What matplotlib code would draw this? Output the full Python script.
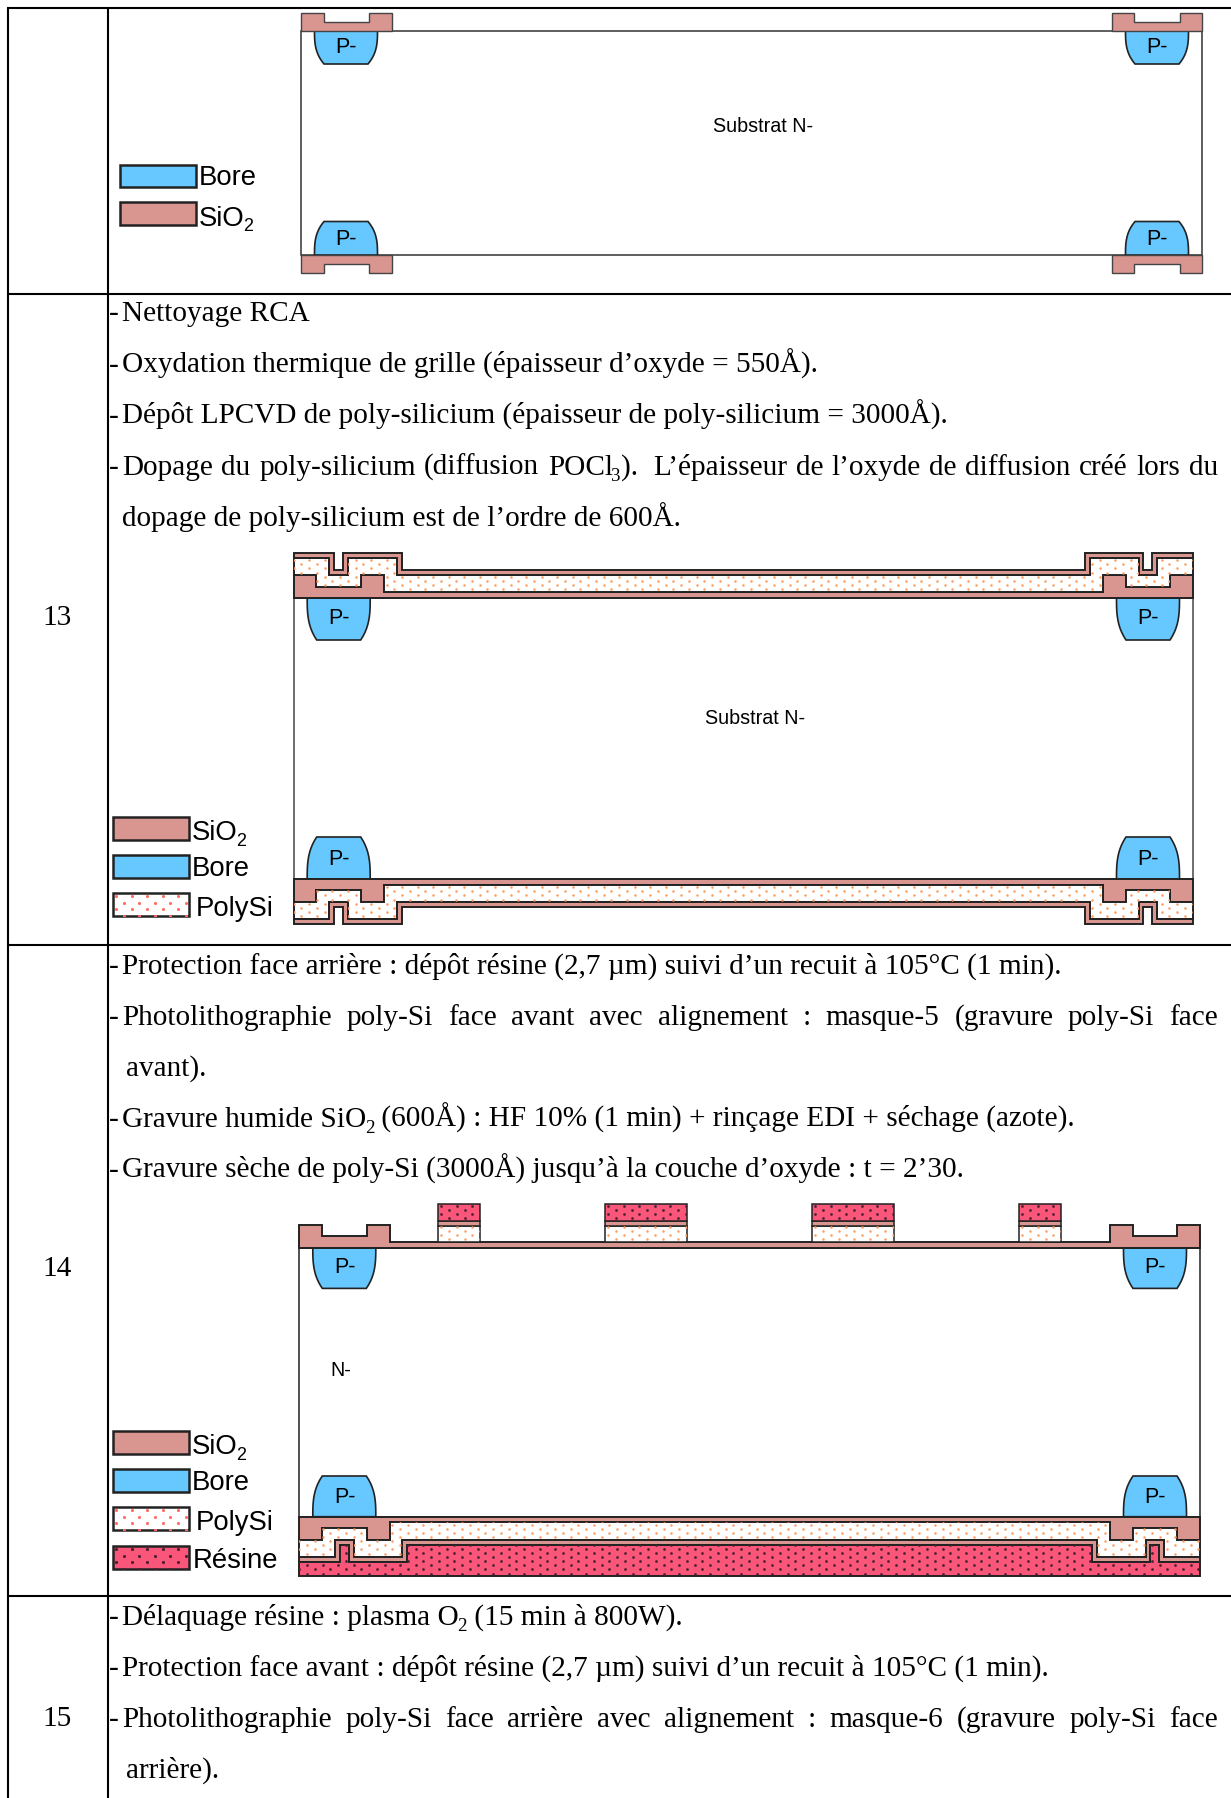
import numpy as np
from matplotlib import pyplot as plt
from matplotlib.patches import Polygon, Rectangle

W, H = 1231, 1798
SERIF = 'Liberation Serif'
SANS = 'Liberation Sans'
BODY_SIZE = 21.1
C_OX, C_BORE, C_RES = '#d99690', '#66c8ff', '#f9567a'
C_DOT, C_DOT_LEG, C_DOT_RES = '#ff9b5e', '#ff6b62', '#4a2030'

row_lines = [8, 294, 945, 1596]
row_numbers = ['13', '14', '15']
row_number_y = [618, 1269, 1719]

# step profiles: (x from the wafer edge, height above the surface)
ox1_profile = [(0, 23), (22.7, 11.3), (67.3, 23), (90.3, 5.6)]
poly_profile = [(0, 40), (35.6, 23), (54.3, 40), (103, 23)]
ox2_profile = [(0, 45.3), (40.6, 28), (49.6, 45.3), (108, 28)]
res_profile = [(0, 59)]
first_ox_profile = [(0, 18), (22.5, 9), (68, 18)]
block_edges = [(139, 180.7), (306, 387.7)]

text_13 = [
    (321, '- Nettoyage RCA', False),
    (373, '- Oxydation thermique de grille (épaisseur d’oxyde = 550Å).', False),
    (424, '- Dépôt LPCVD de poly-silicium (épaisseur de poly-silicium = 3000Å).', False),
    (475, '- Dopage du poly-silicium (diffusion POCl|3|). L’épaisseur de l’oxyde de diffusion créé lors du', True),
    (526, '  dopage de poly-silicium est de l’ordre de 600Å.', False),
]
text_14 = [
    (974, '- Protection face arrière : dépôt résine (2,7 µm) suivi d’un recuit à 105°C (1 min).', False),
    (1025, '- Photolithographie poly-Si face avant avec alignement : masque-5 (gravure poly-Si face', True),
    (1076, '   avant).', False),
    (1127, '- Gravure humide SiO|2| (600Å) : HF 10% (1 min) + rinçage EDI + séchage (azote).', False),
    (1178, '- Gravure sèche de poly-Si (3000Å) jusqu’à la couche d’oxyde : t = 2’30.', False),
]
text_15 = [
    (1625, '- Délaquage résine : plasma O|2| (15 min à 800W).', False),
    (1676, '- Protection face avant : dépôt résine (2,7 µm) suivi d’un recuit à 105°C (1 min).', False),
    (1727, '- Photolithographie poly-Si face arrière avec alignement : masque-6 (gravure poly-Si face', True),
    (1778, '   arrière).', False),
]

fig = plt.figure(figsize=(W / 100, H / 100), dpi=100)
ax = fig.add_axes([0, 0, 1, 1])
ax.set_xlim(0, W)
ax.set_ylim(H, 0)
ax.axis('off')
rend = fig.canvas.get_renderer()


def text_w(s, size, family):
    t = ax.text(0, 0, s, fontsize=size, family=family)
    w = t.get_window_extent(rend).width
    t.remove()
    return w


def put(x, y, s, size=BODY_SIZE, family=SERIF):
    # parts between | are subscripts, returns the end x
    for i, part in enumerate(s.split('|')):
        if i % 2:
            ax.text(x - 1.5, y + size * 0.3, part, fontsize=size * 0.65, family=family, va='baseline')
            x += text_w(part, size * 0.65, family) - 1.5
        elif part:
            ax.text(x, y, part, fontsize=size, family=family, va='baseline')
            x += text_w(part.replace(' ', '\u00a0'), size, family)
    return x


def put_justified(x, y, s, right):
    words = s.split(' ')
    widths = [text_w(w.replace('|', ''), BODY_SIZE, SERIF) for w in words]
    gap = (right - x - sum(widths)) / (len(words) - 1)
    for w, ww in zip(words, widths):
        put(x, y, w)
        x += ww + gap


def write_lines(lines):
    for y, s, just in lines:
        lead = len(s) - len(s.lstrip(' '))
        if s.startswith('- '):
            put(109, y, '-')
            x, s = 122, s[2:]
        else:
            x, s = 122 + max(0, lead - 2) * 4, s.lstrip(' ')
        if just:
            put_justified(x, y, s, 1218)
        else:
            put(x, y, s)


def polygon(verts, fc, z=3, lw=1.4, ec='#222222'):
    p = Polygon(verts, closed=True, fc=fc, ec=ec, lw=lw, zorder=z, joinstyle='miter')
    ax.add_patch(p)
    return p


def dots(patch, box, color, sx=15.5, sy=4.1, size=3.2):
    x0, y0, x1, y1 = box
    xs, ys = [], []
    for j, y in enumerate(np.arange(y0, y1 + sy, sy)):
        row = np.arange(x0 + (j % 2) * sx / 2, x1 + sx, sx)
        xs.extend(row)
        ys.extend([y] * len(row))
    sc = ax.scatter(xs, ys, s=size, c=color, lw=0, zorder=patch.get_zorder() + 0.1)
    sc.set_clip_path(patch)


def outline(profile, left, right, y0, sign):
    # profile mirrored on both wafer sides, sign -1 = above the surface
    pts = []
    for i, (x, h) in enumerate(profile):
        if i:
            pts.append((left + x, y0 + sign * profile[i - 1][1]))
        pts.append((left + x, y0 + sign * h))
    right_pts = [(right - (px - left), py) for px, py in pts]
    return pts + right_pts[::-1]


def layer(top, under, fc):
    return polygon(top + under[::-1], fc)


def bore(left, right, y0, sign, h):
    for a, b in [(left + 13.5, left + 76.5), (right - 76.5, right - 13.5)]:
        t = np.linspace(0, 1, 12)
        # side curved like a rounded well
        ys = y0 + sign * h * t
        pts = list(zip(a + 9.5 * t ** 3, ys)) + list(zip(b - 9.5 * t[::-1] ** 3, ys[::-1]))
        polygon(pts, C_BORE, z=2, lw=1.2)
        ax.text(a + 21, y0 + sign * h * 0.48 + 0.5, 'P-', fontsize=15.5, family=SANS, va='center', zorder=6)


def stack(left, right, y0, sign, with_res=False):
    ox1 = outline(ox1_profile, left, right, y0, sign)
    layer(ox1, [(left, y0), (right, y0)], C_OX)
    pl = outline(poly_profile, left, right, y0, sign)
    p = layer(pl, ox1, 'white')
    box = (left, min(y0 + sign * 46, y0), right, max(y0 + sign * 46, y0))
    dots(p, box, C_DOT)
    ox2 = outline(ox2_profile, left, right, y0, sign)
    layer(ox2, pl, C_OX)
    if with_res:
        r = outline(res_profile, left, right, y0, sign)
        rp = layer(r, ox2, C_RES)
        dots(rp, (left, y0 + 20, right, y0 + 60), C_DOT_RES, size=3.8)


def legend(x, items):
    for y, name, fc, dc in items:
        r = Rectangle((x, y), 75.5, 22.5, fc=fc, ec='#222222', lw=1.8, zorder=3)
        ax.add_patch(r)
        if dc:
            dots(r, (x + 3, y + 3, x + 74, y + 21), dc, sx=15.5, sy=6.5, size=5)
        dx = {'Bore': 3, 'SiO|2|': 3, 'PolySi': 7, 'Résine': 4}[name]
        dy = {'Bore': 20.5, 'SiO|2|': 23.5, 'PolySi': 23.5, 'Résine': 21.5}[name]
        put(x + 75.5 + dx, y + dy, name, size=19.8, family=SANS)


# table rules
for y in row_lines:
    ax.plot([7, W], [y, y], color='k', lw=1.5, solid_capstyle='butt', zorder=1)
ax.plot([8, 8], [8, H], color='k', lw=1.5, solid_capstyle='butt', zorder=1)
ax.plot([108, 108], [8, H], color='k', lw=1.5, solid_capstyle='butt', zorder=1)
for lab, y in zip(row_numbers, row_number_y):
    ax.text(57.5, y, lab, fontsize=BODY_SIZE, family=SERIF, ha='center', va='center')
write_lines(text_13)
write_lines(text_14)
write_lines(text_15)

# diagram row 12
L, R = 301, 1202
ax.add_patch(Rectangle((L, 30.5), R - L, 224.5, fc='white', ec='#333333', lw=1.1, zorder=1.5))
bore(L, R, 30.5, 1, 33.5)
bore(L, R, 255, -1, 33.5)
for side in ['l', 'r']:
    for y0, sign in [(30.5, -1), (255, 1)]:
        pts = []
        for i, (x, h) in enumerate(first_ox_profile):
            if i:
                pts.append((L + x, y0 + sign * first_ox_profile[i - 1][1]))
            pts.append((L + x, y0 + sign * h))
        pts += [(L + 90.5, y0 + sign * 18), (L + 90.5, y0), (L, y0)]
        if side == 'r':
            pts = [(L + R - a, b) for a, b in pts]
        polygon(pts, C_OX, lw=1.0, ec='#444444')
ax.text(763, 127, 'Substrat N-', fontsize=14.2, family=SANS, ha='center', va='center')
legend(120, [(164.5, 'Bore', C_BORE, None), (202, 'SiO|2|', C_OX, None)])

# diagram row 13
L, R = 293.7, 1193
ax.add_patch(Rectangle((L, 598), R - L, 281, fc='white', ec='#555555', lw=1.2, zorder=1.5))
bore(L, R, 598, 1, 42)
bore(L, R, 879, -1, 42)
stack(L, R, 598, -1)
stack(L, R, 879, 1)
ax.text(755, 718, 'Substrat N-', fontsize=14.2, family=SANS, ha='center', va='center')
legend(113, [(817, 'SiO|2|', C_OX, None), (855, 'Bore', C_BORE, None), (893, 'PolySi', 'white', C_DOT_LEG)])

# diagram row 14
L, R = 299.3, 1200
ax.add_patch(Rectangle((L, 1247.7), R - L, 269, fc='white', ec='#222222', lw=1.1, zorder=1.5))
bore(L, R, 1247.7, 1, 40.7)
bore(L, R, 1516.7, -1, 40.7)
ox_top = outline(ox1_profile, L, R, 1247.7, -1)
polygon(ox_top + [(R, 1247.7), (L, 1247.7)], C_OX)
for a, b in block_edges:
    for x0, x1 in [(L + a, L + b), (R - b, R - a)]:
        p = polygon([(x0, 1242), (x1, 1242), (x1, 1225.7), (x0, 1225.7)], 'white', lw=1.1)
        dots(p, (x0 + 3, 1227, x1, 1242), C_DOT)
        polygon([(x0, 1225.7), (x1, 1225.7), (x1, 1220.7), (x0, 1220.7)], C_OX, lw=1.1)
        r = polygon([(x0, 1220.7), (x1, 1220.7), (x1, 1204.3), (x0, 1204.3)], C_RES, lw=1.1)
        dots(r, (x0 + 3, 1206, x1, 1220), C_DOT_RES, size=3.8)
stack(L, R, 1516.7, 1, with_res=True)
ax.text(341, 1371, 'N-', fontsize=14.2, family=SANS, ha='center', va='center')
legend(113, [(1431, 'SiO|2|', C_OX, None), (1469, 'Bore', C_BORE, None), (1507, 'PolySi', 'white', C_DOT_LEG), (1546, 'Résine', C_RES, C_DOT_RES)])

plt.savefig('out.png', dpi=100)
